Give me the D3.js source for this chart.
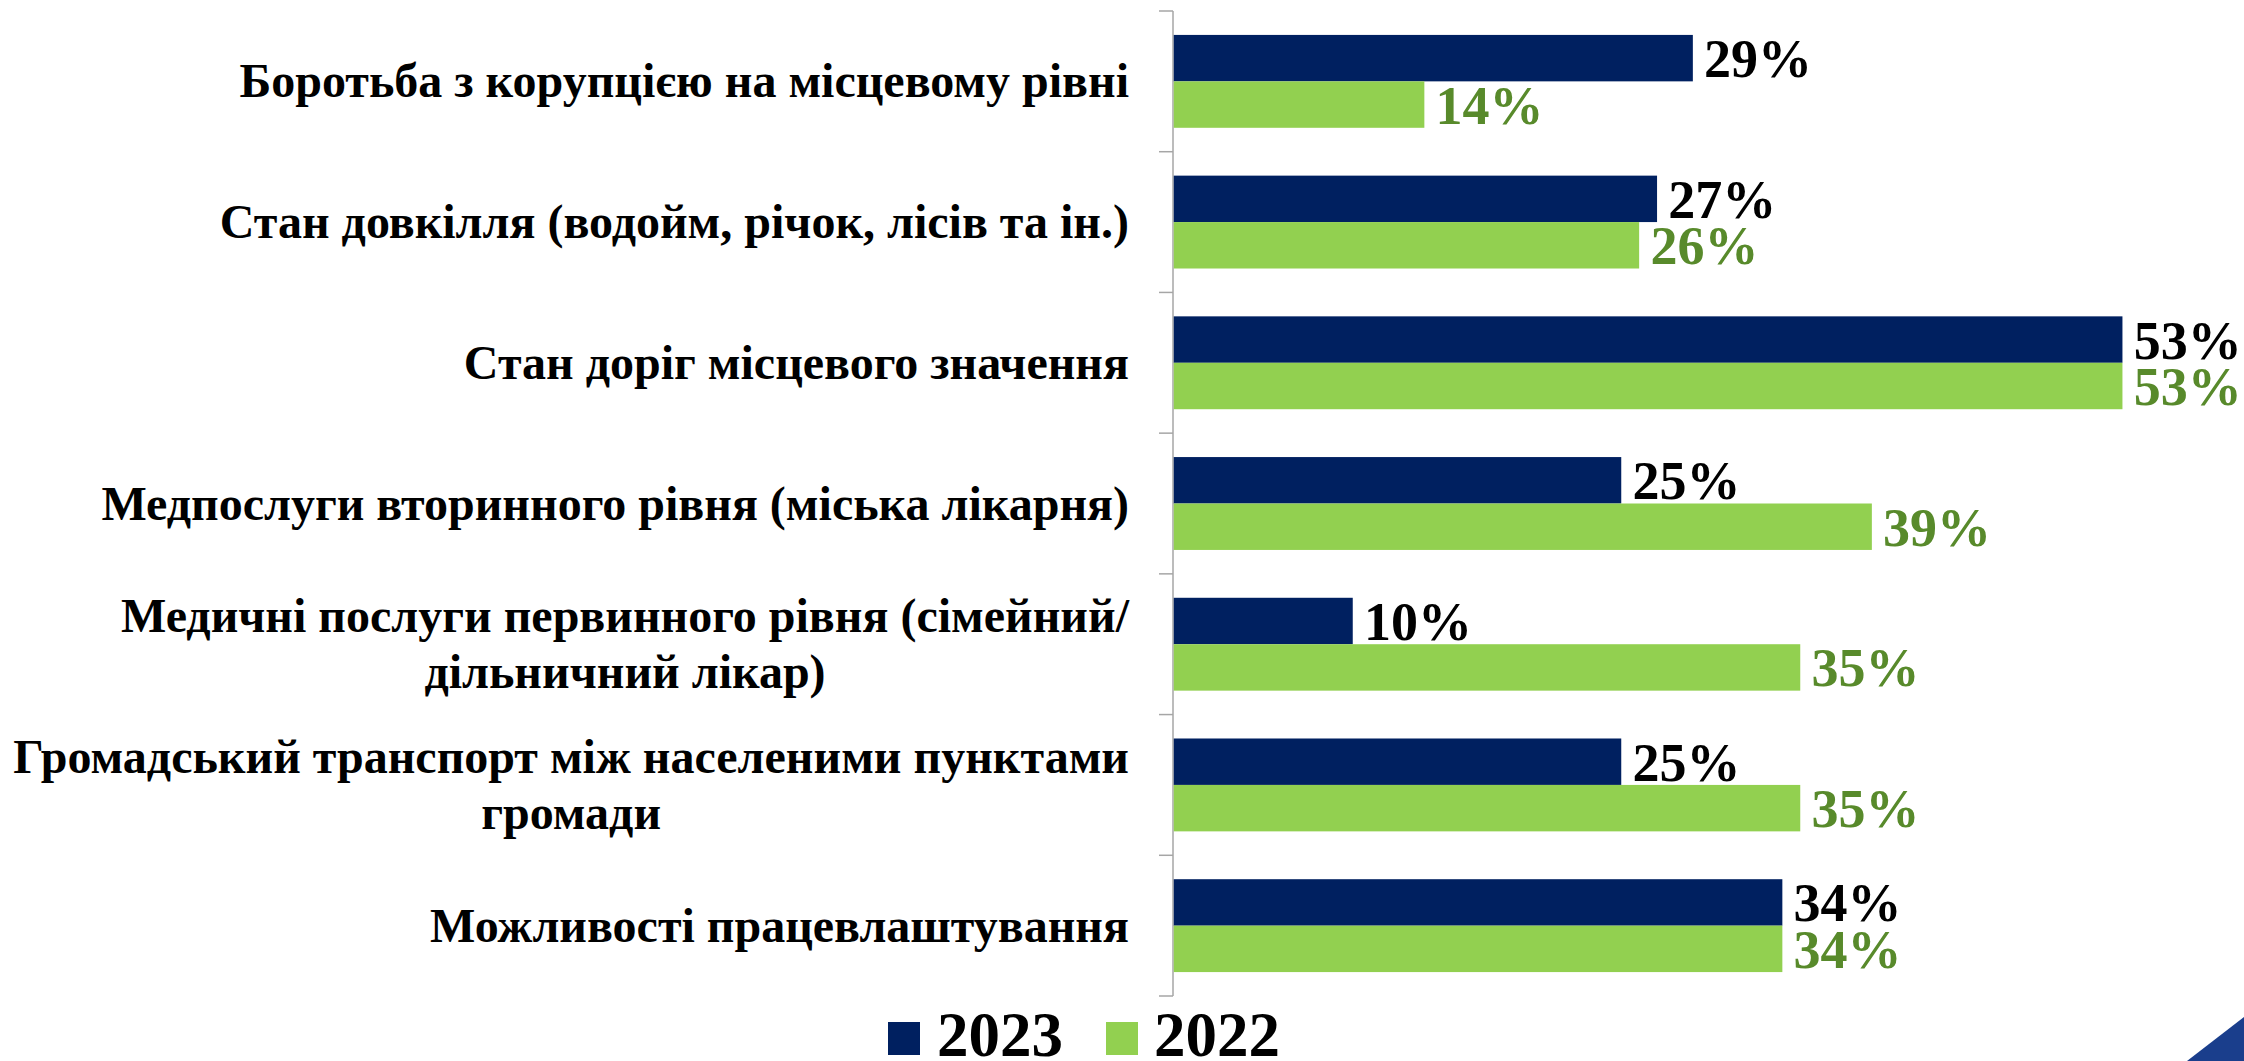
<!DOCTYPE html>
<html>
<head>
<meta charset="utf-8">
<script src="https://cdn.jsdelivr.net/npm/d3@7/dist/d3.min.js"></script>
<style>
  html, body { margin: 0; padding: 0; background: #ffffff; }
  svg { display: block; }
  text { font-family: "Liberation Serif", "Times New Roman", serif; font-weight: bold; }
</style>
</head>
<body>
<svg id="chart" width="2244" height="1061"></svg>
<script>
// Categories (each entry is a list of label lines)
const categories = [
  ["Боротьба з корупцією на місцевому рівні"],
  ["Стан довкілля (водойм, річок, лісів та ін.)"],
  ["Стан доріг місцевого значення"],
  ["Медпослуги вторинного рівня (міська лікарня)"],
  ["Медичні послуги первинного рівня (сімейний/", "дільничний лікар)"],
  ["Громадський транспорт між населеними пунктами", "громади"],
  ["Можливості працевлаштування"]
];
const seriesNames = ["2023", "2022"];
const values2023 = [29, 27, 53, 25, 10, 25, 34];
const values2022 = [14, 26, 53, 39, 35, 35, 34];

const colors = { "2023": "#002060", "2022": "#92d050" };
const labelColors = { "2023": "#000000", "2022": "#588a2b" };

const svg = d3.select("#chart");
const W = 2244, H = 1061;
const axisX = 1173;

const rows = categories.map((c, i) => ({
  key: i,
  lines: c,
  "2023": values2023[i],
  "2022": values2022[i]
}));

const y0 = d3.scaleBand()
  .domain(rows.map(d => d.key))
  .range([11, 996])
  .paddingInner(0.34)
  .paddingOuter(0.17);

const y1 = d3.scaleBand()
  .domain(seriesNames)
  .range([0, y0.bandwidth()]);

const x = d3.scaleLinear().domain([0, 60]).range([axisX, axisX + 60 * 17.9]);

// Category axis: vertical line with ticks at band boundaries
const step = y0.step();
const boundaries = d3.range(categories.length + 1).map(i => 11 + i * step);
const axisG = svg.append("g").attr("class", "axis");
axisG.append("line")
  .attr("x1", axisX).attr("x2", axisX)
  .attr("y1", boundaries[0]).attr("y2", boundaries[boundaries.length - 1])
  .attr("stroke", "#a6a6a6").attr("stroke-width", 1.5);
axisG.selectAll("line.tick").data(boundaries).join("line")
  .attr("class", "tick")
  .attr("x1", axisX - 14).attr("x2", axisX)
  .attr("y1", d => d).attr("y2", d => d)
  .attr("stroke", "#a6a6a6").attr("stroke-width", 1.5);

// Bars
const groups = svg.append("g").selectAll("g").data(rows).join("g")
  .attr("transform", d => `translate(0,${y0(d.key)})`);

groups.selectAll("rect")
  .data(d => seriesNames.map(s => ({ s, v: d[s] })))
  .join("rect")
  .attr("x", x(0) + 0.75)
  .attr("y", d => y1(d.s))
  .attr("width", d => x(d.v) - x(0))
  .attr("height", y1.bandwidth())
  .attr("fill", d => colors[d.s]);

// Value labels
groups.selectAll("text.val")
  .data(d => seriesNames.map(s => ({ s, v: d[s] })))
  .join("text")
  .attr("class", "val")
  .attr("x", d => x(d.v) + 12)
  .attr("y", d => y1(d.s) + y1.bandwidth() / 2 + 19)
  .attr("font-size", 54)
  .attr("fill", d => labelColors[d.s])
  .text(d => d.v + "%");

// Category labels: lines centered on each other, block right-aligned
const labelRight = 1129;
const lineGap = 56;
const catG = svg.append("g");
rows.forEach(r => {
  const cy = y0(r.key) + y0.bandwidth() / 2;
  const t = catG.append("text")
    .attr("font-size", 48)
    .attr("fill", "#000000")
    .attr("text-anchor", "middle");
  const n = r.lines.length;
  const spans = r.lines.map((line, j) =>
    t.append("tspan")
      .attr("y", cy + 16 + (j - (n - 1) / 2) * lineGap)
      .text(line)
  );
  const maxW = d3.max(spans, s => s.node().getComputedTextLength());
  spans.forEach(s => s.attr("x", labelRight - maxW / 2));
});

// Legend
const legend = svg.append("g");
const legendItems = [
  { s: "2023", sq: 888, tx: 937 },
  { s: "2022", sq: 1106, tx: 1154 }
];
legend.selectAll("rect").data(legendItems).join("rect")
  .attr("x", d => d.sq).attr("y", 1022)
  .attr("width", 32).attr("height", 33)
  .attr("fill", d => colors[d.s]);
legend.selectAll("text").data(legendItems).join("text")
  .attr("x", d => d.tx).attr("y", 1056)
  .attr("font-size", 63)
  .attr("fill", "#000000")
  .text(d => d.s);

// Corner accent
svg.append("path")
  .attr("d", `M2187,${H} L${W},1017 L${W},${H} Z`)
  .attr("fill", "#1a3e8c");
</script>
</body>
</html>
